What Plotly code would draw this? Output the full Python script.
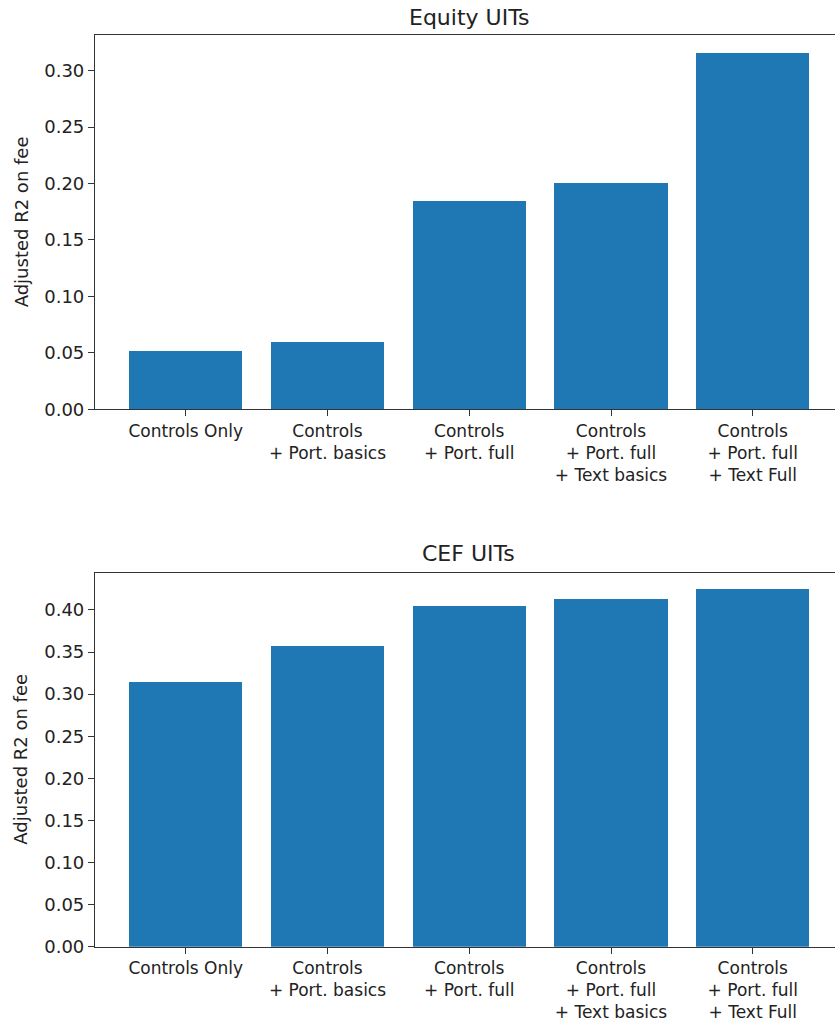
import plotly.graph_objects as go

categories = ["Controls Only", "Controls<br>+ Port. basics", "Controls<br>+ Port. full",
              "Controls<br>+ Port. full<br>+ Text basics", "Controls<br>+ Port. full<br>+ Text Full"]
equity_values = [0.0512, 0.0594, 0.184, 0.2006, 0.3155]
cef_values = [0.3145, 0.357, 0.405, 0.414, 0.425]
equity_ticks = [0.00, 0.05, 0.10, 0.15, 0.20, 0.25, 0.30]
cef_ticks = [0.00, 0.05, 0.10, 0.15, 0.20, 0.25, 0.30, 0.35, 0.40]
titles = ["Equity UITs", "CEF UITs"]
ylabel = "Adjusted R2 on fee"

W, H = 835, 1023
BLUE = "#1f77b4"
TXT = "#222222"
FONT = "DejaVu Sans"
xpos = list(range(len(categories)))

fig = go.Figure()
fig.add_trace(go.Bar(x=xpos, y=equity_values, width=0.8, marker_color=BLUE,
                     marker_line_width=0, xaxis="x", yaxis="y", showlegend=False))
fig.add_trace(go.Bar(x=xpos, y=cef_values, width=0.8, marker_color=BLUE,
                     marker_line_width=0, xaxis="x2", yaxis="y2", showlegend=False))

# pixel layout
top_dom = [1 - 409.3 / H, 1 - 35.3 / H]
bot_dom = [1 - 946.7 / H, 1 - 572.7 / H]
xrange_ = [-0.64, 4.58]

common_x = dict(range=xrange_, tickvals=xpos, ticktext=categories, showline=True,
                linecolor="#333333", linewidth=1.2, mirror=True, ticks="outside",
                ticklen=6, tickcolor="#333333", showgrid=False, zeroline=False,
                tickfont=dict(family=FONT, size=17, color=TXT), domain=[0, 1],
                fixedrange=True, automargin=False)
common_y = dict(showline=True, linecolor="#333333", linewidth=1.2, ticks="outside",
                ticklen=6, tickcolor="#333333", showgrid=False, zeroline=False,
                tickfont=dict(family=FONT, size=18, color=TXT), tickformat=".2f",
                automargin=False)

fig.update_layout(
    width=W, height=H,
    margin=dict(l=95, r=0, t=0, b=0, autoexpand=False),
    paper_bgcolor="white", plot_bgcolor="white",
    bargap=0,
    xaxis=dict(common_x, anchor="y"),
    xaxis2=dict(common_x, anchor="y2"),
    yaxis=dict(common_y, domain=top_dom, range=[0, 0.3313], tickvals=equity_ticks, anchor="x"),
    yaxis2=dict(common_y, domain=bot_dom, range=[0, 0.4443], tickvals=cef_ticks, anchor="x2"),
)

plot_w = W - 95
title_x = (469 - 95) / plot_w
ylab_x = (21 - 95) / plot_w
for title, ty, dom in [(titles[0], 18, top_dom), (titles[1], 553, bot_dom)]:
    fig.add_annotation(text=title, xref="paper", yref="paper", x=title_x, y=1 - ty / H,
                       xanchor="center", yanchor="middle", showarrow=False,
                       font=dict(family=FONT, size=22, color=TXT))
    fig.add_annotation(text=ylabel, xref="paper", yref="paper", x=ylab_x,
                       y=(dom[0] + dom[1]) / 2, xanchor="center", yanchor="middle",
                       textangle=-90, showarrow=False,
                       font=dict(family=FONT, size=18, color=TXT))

fig.write_html("out.html")
